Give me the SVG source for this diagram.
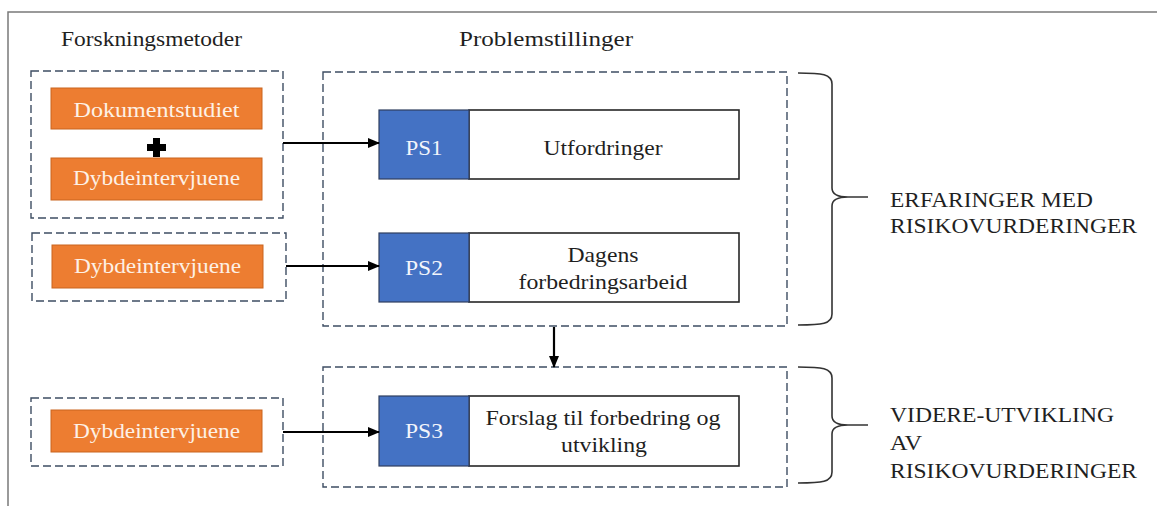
<svg xmlns="http://www.w3.org/2000/svg" width="1157" height="506" viewBox="0 0 1157 506">
  <style>
    .t { font-family: 'Liberation Serif', 'DejaVu Serif', 'Times New Roman', Times, serif; font-size: 21px; fill: #1f1f1f; }
    .m { text-anchor: middle; }
    .lt { fill: #fdf1e6; }
    .wt { fill: #f2f5fb; }
    .dash { fill: none; stroke: #3e4d63; stroke-width: 1.4; stroke-dasharray: 8 4; }
    .orange { fill: #ed7d31; stroke: #c9651f; stroke-width: 1; }
    .blue { fill: #4472c4; stroke: #2f3f5f; stroke-width: 1.2; }
    .white { fill: #ffffff; stroke: #262626; stroke-width: 1.6; }
    .conn { fill: none; stroke: #000; stroke-width: 2.2; }
    .brace { fill: none; stroke: #333; stroke-width: 1.6; }
  </style>
  <defs>
    <marker id="arrow" markerWidth="12" markerHeight="12" refX="11" refY="6" orient="auto" markerUnits="userSpaceOnUse">
      <path d="M0,1 L12,6 L0,11 Z" fill="#000"/>
    </marker>
  </defs>

  <rect width="1157" height="506" fill="#ffffff"/>
  <!-- frame -->
  <path d="M8,506 V12 H1157" fill="none" stroke="#7a7a7a" stroke-width="1.5"/>

  <!-- column headings -->
  <text class="t" font-family="Liberation Serif, serif" x="61" y="46" textLength="181" lengthAdjust="spacingAndGlyphs">Forskningsmetoder</text>
  <text class="t" font-family="Liberation Serif, serif" x="459" y="46" textLength="174" lengthAdjust="spacingAndGlyphs">Problemstillinger</text>

  <!-- research methods -->
  <g id="method-1">
    <rect class="dash" x="31" y="71" width="252" height="147"/>
    <rect class="orange" x="51" y="88" width="211" height="41"/>
    <text class="t lt m" x="156.5" y="117" textLength="166" lengthAdjust="spacingAndGlyphs">Dokumentstudiet</text>
    <path d="M153,138 h7 v6 h6 v7 h-6 v6 h-7 v-6 h-6 v-7 h6 Z" fill="#000"/>
    <rect class="orange" x="51" y="158" width="211" height="42"/>
    <text class="t lt m" x="156.5" y="185" textLength="167" lengthAdjust="spacingAndGlyphs">Dybdeintervjuene</text>
  </g>

  <g id="method-2">
    <rect class="dash" x="32" y="233" width="254" height="68"/>
    <rect class="orange" x="52" y="245" width="211" height="43"/>
    <text class="t lt m" x="157.5" y="273" textLength="167" lengthAdjust="spacingAndGlyphs">Dybdeintervjuene</text>
  </g>

  <g id="method-3">
    <rect class="dash" x="31" y="398" width="252" height="68"/>
    <rect class="orange" x="51" y="410" width="211" height="42"/>
    <text class="t lt m" x="156.5" y="438" textLength="167" lengthAdjust="spacingAndGlyphs">Dybdeintervjuene</text>
  </g>

  <!-- problem statements -->
  <g id="group-ps12">
    <rect class="dash" x="323" y="72" width="464" height="254"/>
  </g>

  <g id="ps1">
    <rect class="white" x="469" y="110" width="270" height="69"/>
    <rect class="blue" x="379" y="110" width="90" height="69"/>
    <text class="t wt m" x="424" y="155" textLength="37" lengthAdjust="spacingAndGlyphs">PS1</text>
    <text class="t m" x="603" y="155" textLength="119" lengthAdjust="spacingAndGlyphs">Utfordringer</text>
  </g>

  <g id="ps2">
    <rect class="white" x="469" y="233" width="270" height="69"/>
    <rect class="blue" x="379" y="233" width="90" height="69"/>
    <text class="t wt m" x="424" y="275" textLength="38" lengthAdjust="spacingAndGlyphs">PS2</text>
    <text class="t m" x="603" y="262" textLength="71" lengthAdjust="spacingAndGlyphs">Dagens</text>
    <text class="t m" x="603" y="289" textLength="169" lengthAdjust="spacingAndGlyphs">forbedringsarbeid</text>
  </g>

  <g id="group-ps3">
    <rect class="dash" x="323" y="367" width="464" height="120"/>
  </g>

  <g id="ps3">
    <rect class="white" x="469" y="396" width="270" height="70"/>
    <rect class="blue" x="379" y="396" width="90" height="70"/>
    <text class="t wt m" x="424" y="438" textLength="38" lengthAdjust="spacingAndGlyphs">PS3</text>
    <text class="t m" x="603" y="425" textLength="235" lengthAdjust="spacingAndGlyphs">Forslag til forbedring og</text>
    <text class="t m" x="604" y="452" textLength="86" lengthAdjust="spacingAndGlyphs">utvikling</text>
  </g>

  <!-- braces and their labels -->
  <g id="label-erfaringer">
    <path class="brace" d="M798,73 C822,73 832,74 832,84 V188 C832,195 838,197 848,197 H868 M848,197 C838,197 832,199 832,206 V314 C832,324 822,325 798,325"/>
    <text class="t" x="890" y="207" textLength="203" lengthAdjust="spacingAndGlyphs">ERFARINGER MED</text>
    <text class="t" x="890" y="233" textLength="247" lengthAdjust="spacingAndGlyphs">RISIKOVURDERINGER</text>
  </g>

  <g id="label-videreutvikling">
    <path class="brace" d="M798,367 C822,367 832,368 832,378 V416 C832,423 838,425 848,425 H868 M848,425 C838,425 832,427 832,434 V472 C832,482 822,483 798,483"/>
    <text class="t" x="890" y="422" textLength="224" lengthAdjust="spacingAndGlyphs">VIDERE-UTVIKLING</text>
    <text class="t" x="890" y="450" textLength="32" lengthAdjust="spacingAndGlyphs">AV</text>
    <text class="t" x="890" y="478" textLength="247" lengthAdjust="spacingAndGlyphs">RISIKOVURDERINGER</text>
  </g>

  <!-- connectors -->
  <g id="connectors">
    <line class="conn" x1="283" y1="143" x2="379" y2="143" marker-end="url(#arrow)"/>
    <line class="conn" x1="286" y1="266" x2="379" y2="266" marker-end="url(#arrow)"/>
    <line class="conn" x1="283" y1="432" x2="379" y2="432" marker-end="url(#arrow)"/>
    <line class="conn" x1="554" y1="327" x2="554" y2="367" marker-end="url(#arrow)"/>
  </g>
</svg>
